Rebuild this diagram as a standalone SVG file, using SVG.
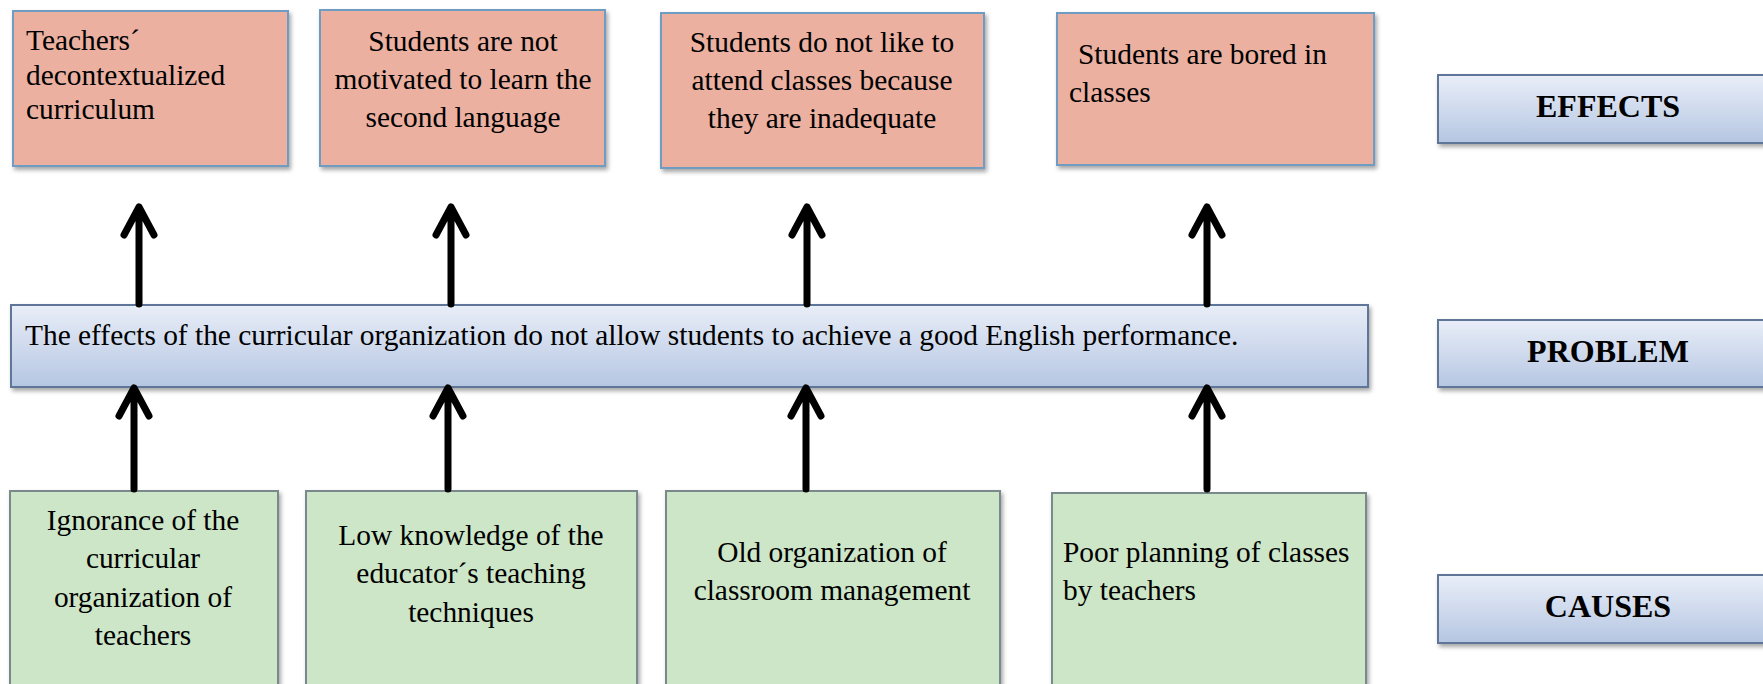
<svg xmlns="http://www.w3.org/2000/svg" width="1763" height="684" viewBox="0 0 1763 684">
  <defs>
    <linearGradient id="blueGrad" x1="0" y1="0" x2="0" y2="1">
      <stop offset="0" stop-color="#e9eef8"/>
      <stop offset="1" stop-color="#b5c6e2"/>
    </linearGradient>
    <filter id="shadow" x="-5%" y="-10%" width="112%" height="130%">
      <feDropShadow dx="2" dy="3" stdDeviation="2" flood-color="#000" flood-opacity="0.35"/>
    </filter>
  </defs>
  <style>
    text { font-family: "Liberation Serif", "Times New Roman", serif; font-size: 29.4px; fill: #000; }
    .mid { text-anchor: middle; }
    .label { font-weight: bold; font-size: 32px; text-anchor: middle; }
    .effect { fill: #ebb0a0; stroke: #6e9cc2; stroke-width: 2; filter: url(#shadow); }
    .cause { fill: #cde6c8; stroke: #7a8a8c; stroke-width: 2; filter: url(#shadow); }
    .blue { fill: url(#blueGrad); stroke: #5f7699; stroke-width: 2; filter: url(#shadow); }
    .arrow { fill: none; stroke: #000; stroke-width: 7; stroke-linecap: round; stroke-linejoin: round; }
  </style>
  <rect width="1763" height="684" fill="#fff"/>

  <g id="effect1">
    <rect class="effect" x="13" y="11" width="275" height="155"/>
    <text x="26" y="50">Teachers´</text>
    <text x="26" y="85">decontextualized</text>
    <text x="26" y="119">curriculum</text>
  </g>
  <g id="effect2">
    <rect class="effect" x="320" y="10" width="285" height="156"/>
    <text class="mid" x="463" y="51">Students are not</text>
    <text class="mid" x="463" y="89">motivated to learn the</text>
    <text class="mid" x="463" y="127">second language</text>
  </g>
  <g id="effect3">
    <rect class="effect" x="661" y="13" width="323" height="155"/>
    <text class="mid" x="822" y="52">Students do not like to</text>
    <text class="mid" x="822" y="90">attend classes because</text>
    <text class="mid" x="822" y="128">they are inadequate</text>
  </g>
  <g id="effect4">
    <rect class="effect" x="1057" y="13" width="317" height="152"/>
    <text x="1078" y="64">Students are bored in</text>
    <text x="1069" y="102">classes</text>
  </g>

  <g id="problem">
    <rect class="blue" x="11" y="305" width="1357" height="82"/>
    <text x="25" y="345">The effects of the curricular organization do not allow students to achieve a good English performance.</text>
  </g>

  <g id="cause1">
    <rect class="cause" x="10" y="491" width="268" height="200"/>
    <text class="mid" x="143" y="530">Ignorance of the</text>
    <text class="mid" x="143" y="568">curricular</text>
    <text class="mid" x="143" y="607">organization of</text>
    <text class="mid" x="143" y="645">teachers</text>
  </g>
  <g id="cause2">
    <rect class="cause" x="306" y="491" width="331" height="200"/>
    <text class="mid" x="471" y="545">Low knowledge of the</text>
    <text class="mid" x="471" y="583">educator´s teaching</text>
    <text class="mid" x="471" y="622">techniques</text>
  </g>
  <g id="cause3">
    <rect class="cause" x="666" y="491" width="334" height="200"/>
    <text class="mid" x="832" y="562">Old organization of</text>
    <text class="mid" x="832" y="600">classroom management</text>
  </g>
  <g id="cause4">
    <rect class="cause" x="1052" y="493" width="314" height="200"/>
    <text x="1063" y="562">Poor planning of classes</text>
    <text x="1063" y="600">by teachers</text>
  </g>

  <g id="label-effects">
    <rect class="blue" x="1438" y="75" width="335" height="68"/>
    <text class="label" x="1608" y="117">EFFECTS</text>
  </g>
  <g id="label-problem">
    <rect class="blue" x="1438" y="320" width="335" height="67"/>
    <text class="label" x="1608" y="362">PROBLEM</text>
  </g>
  <g id="label-causes">
    <rect class="blue" x="1438" y="575" width="335" height="68"/>
    <text class="label" x="1608" y="617">CAUSES</text>
  </g>

  <g id="connectors">
    <path class="arrow" d="M139 304 L139 207 M124 235 L139 207 L154 235"/>
    <path class="arrow" d="M451 304 L451 207 M436 235 L451 207 L466 235"/>
    <path class="arrow" d="M807 304 L807 207 M792 235 L807 207 L822 235"/>
    <path class="arrow" d="M1207 304 L1207 207 M1192 235 L1207 207 L1222 235"/>
    <path class="arrow" d="M134 489 L134 388 M119 416 L134 388 L149 416"/>
    <path class="arrow" d="M448 489 L448 388 M433 416 L448 388 L463 416"/>
    <path class="arrow" d="M806 489 L806 388 M791 416 L806 388 L821 416"/>
    <path class="arrow" d="M1207 489 L1207 388 M1192 416 L1207 388 L1222 416"/>
  </g>
</svg>
